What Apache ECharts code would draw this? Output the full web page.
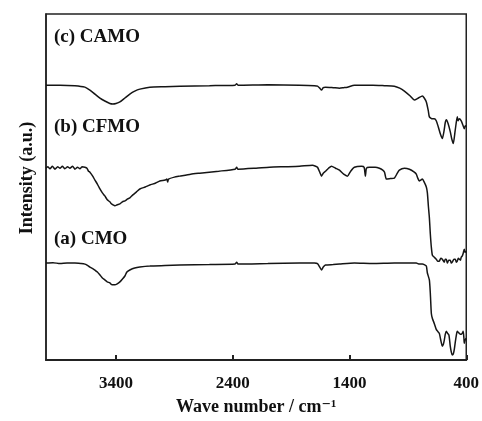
<!DOCTYPE html>
<html>
<head>
    <meta charset="utf-8">
    <title>FTIR</title>
    <script src="https://cdn.jsdelivr.net/npm/echarts@6/dist/echarts.min.js"></script>
</head>
<body style="margin:0;background:#fff;">
    <div id="main" style="width:482px;height:421px;"></div>
    <script type="text/javascript">
        // 横轴刻度
        var xTicks = [3400, 2400, 1400, 400];

        // [波数, 强度(a.u.)]
        var camo = [
            [4000, 278], [3880, 278], [3752, 277.5], [3667, 276], [3624, 273], [3581, 269],
            [3538, 265], [3496, 262], [3453, 259.5], [3427, 259], [3400, 259.5], [3367, 261],
            [3324, 265], [3282, 269], [3240, 272], [3196, 274], [3111, 276], [2980, 276.5],
            [2854, 277], [2600, 277.5], [2380, 278], [2367, 279.5], [2355, 278], [2100, 278.5],
            [1828, 278], [1700, 277.5], [1674, 277], [1655, 275], [1640, 273], [1625, 275.5],
            [1606, 276], [1540, 275.5], [1486, 275], [1450, 275.5], [1418, 276], [1358, 278],
            [1200, 278], [1100, 277.5], [1016, 277], [970, 275], [930, 272], [880, 267],
            [845, 263], [810, 265], [776, 267], [760, 265], [742, 261], [725, 252], [716, 246],
            [690, 244], [674, 244], [657, 242], [640, 236], [620, 228], [605, 224], [590, 232],
            [580, 240], [571, 243], [555, 239], [537, 231], [525, 224], [511, 219], [495, 232],
            [477, 246], [470, 242], [460, 244], [443, 242], [430, 238], [417, 234], [408, 237], [400, 236]
        ];

        var cfmo = [
            [4000, 194], [3985, 195.5], [3966, 193.5], [3945, 196], [3923, 193], [3900, 195.5],
            [3880, 194], [3860, 196], [3838, 193.5], [3815, 195.5], [3795, 194], [3772, 196],
            [3752, 193], [3730, 195], [3709, 193.5], [3690, 195.5], [3667, 195], [3649, 194],
            [3636, 191], [3624, 190], [3600, 186], [3581, 182], [3560, 178], [3538, 173],
            [3517, 169], [3496, 166], [3475, 162], [3453, 160], [3440, 158], [3427, 157],
            [3410, 156], [3390, 157], [3367, 158], [3345, 160], [3324, 161], [3300, 163],
            [3282, 164], [3256, 167], [3225, 170], [3196, 173], [3150, 175], [3111, 177],
            [3060, 179], [3025, 181], [2980, 182], [2965, 183], [2958, 180], [2950, 183],
            [2900, 185], [2854, 186], [2760, 188], [2683, 189], [2520, 191], [2380, 193],
            [2367, 195], [2355, 193], [2200, 194], [2085, 195], [1950, 195.5], [1828, 196],
            [1717, 197], [1690, 196], [1674, 195], [1655, 190], [1640, 186], [1625, 189],
            [1606, 191], [1580, 194], [1554, 196], [1520, 194], [1486, 192], [1450, 188],
            [1418, 186], [1390, 191], [1358, 195], [1298, 196], [1275, 195], [1264, 186],
            [1255, 194], [1230, 195], [1180, 195], [1144, 194], [1115, 192], [1100, 190],
            [1084, 183], [1050, 183.5], [1016, 184], [995, 188], [973, 192], [930, 194],
            [887, 193], [845, 190], [828, 188], [815, 184], [802, 181], [790, 182], [776, 183],
            [760, 180], [742, 175], [733, 169], [724, 155], [716, 144], [708, 128], [699, 114],
            [690, 106], [674, 104], [657, 102], [645, 100], [631, 100], [618, 103], [605, 102],
            [588, 99], [580, 102], [571, 102], [562, 98], [550, 101], [537, 101], [528, 98],
            [520, 99], [505, 102], [494, 102], [485, 99], [477, 100], [468, 103], [460, 102],
            [450, 101], [443, 104], [435, 105], [426, 108], [417, 112], [410, 109], [400, 110]
        ];

        var cmo = [
            [4000, 98], [3940, 98.5], [3880, 97.5], [3820, 98], [3752, 98], [3700, 97.5],
            [3667, 97], [3649, 96], [3624, 94], [3600, 92.5], [3581, 91], [3560, 89],
            [3538, 86], [3517, 83], [3496, 81], [3475, 79], [3453, 78], [3440, 76.5],
            [3427, 76], [3410, 76], [3390, 77], [3367, 79], [3345, 82], [3324, 85],
            [3307, 89], [3282, 91], [3240, 93], [3196, 94], [3111, 95], [2980, 95.5],
            [2854, 96], [2600, 96.5], [2380, 97], [2367, 99], [2355, 97], [2100, 97.5],
            [1828, 98], [1700, 98], [1674, 97.5], [1655, 94], [1640, 91], [1625, 94],
            [1606, 96], [1540, 96.5], [1486, 97], [1358, 98], [1200, 97.5], [1016, 98],
            [900, 98], [828, 98], [802, 97], [776, 97], [760, 96.5], [742, 95], [733, 88],
            [716, 81], [708, 68], [699, 47], [690, 42], [674, 37], [657, 31], [645, 29],
            [631, 27], [618, 20], [605, 14], [596, 16], [588, 20], [580, 26], [571, 29],
            [560, 27], [548, 25], [537, 14], [528, 8], [520, 5], [511, 6], [502, 11],
            [494, 18], [485, 25], [477, 29], [468, 28], [460, 27], [450, 26], [443, 26],
            [435, 27], [426, 29], [420, 22], [417, 17], [410, 20], [400, 22]
        ];

        var labels = ['(c) CAMO', '(b) CFMO', '(a) CMO'];

        var serif = '"Liberation Serif", "DejaVu Serif", serif';
        var lineStyle = { color: '#151515', width: 1.5 };

        var myChart = echarts.init(document.getElementById('main'));
        var option = {
            animation: false,
            backgroundColor: '#fff',
            grid: {
                left: 46,
                right: 15,
                top: 14,
                bottom: 57,
                show: true,
                borderColor: '#222',
                borderWidth: 1.5
            },
            xAxis: {
                type: 'value',
                inverse: true,
                min: 400,
                max: 4000,
                interval: 1000,
                name: 'Wave number / cm\u207B\u00B9',
                nameLocation: 'middle',
                nameGap: 38,
                nameTextStyle: { fontFamily: serif, fontWeight: 'bold', fontSize: 18, color: '#111' },
                axisLine: { show: true, lineStyle: { color: '#222', width: 2 } },
                axisTick: {
                    show: true,
                    inside: true,
                    length: 5,
                    customValues: xTicks,
                    lineStyle: { color: '#222', width: 2 }
                },
                axisLabel: {
                    customValues: xTicks,
                    margin: 15,
                    fontFamily: serif,
                    fontWeight: 'bold',
                    fontSize: 17,
                    color: '#111',
                    formatter: function (v) { return String(v); }
                },
                splitLine: { show: false }
            },
            yAxis: {
                type: 'value',
                min: 0,
                max: 350,
                name: 'Intensity (a.u.)',
                nameLocation: 'middle',
                nameGap: 10,
                nameTextStyle: {
                    fontFamily: serif, fontWeight: 'bold', fontSize: 18, color: '#111',
                    padding: [0, 0, 0, 18]
                },
                axisLine: { show: true, lineStyle: { color: '#222', width: 1.5 } },
                axisTick: { show: false },
                axisLabel: { show: false },
                splitLine: { show: false }
            },
            graphic: [
                { type: 'text', left: 54, top: 28, style: { text: labels[0], font: 'bold 19px ' + serif, fill: '#111' } },
                { type: 'text', left: 54, top: 118, style: { text: labels[1], font: 'bold 19px ' + serif, fill: '#111' } },
                { type: 'text', left: 54, top: 230, style: { text: labels[2], font: 'bold 19px ' + serif, fill: '#111' } }
            ],
            series: [
                { name: 'CAMO', type: 'line', showSymbol: false, smooth: 0.2, lineStyle: lineStyle, data: camo },
                { name: 'CFMO', type: 'line', showSymbol: false, smooth: 0.2, lineStyle: lineStyle, data: cfmo },
                { name: 'CMO', type: 'line', showSymbol: false, smooth: 0.2, lineStyle: lineStyle, data: cmo }
            ]
        };
        myChart.setOption(option);
    </script>
</body>
</html>
